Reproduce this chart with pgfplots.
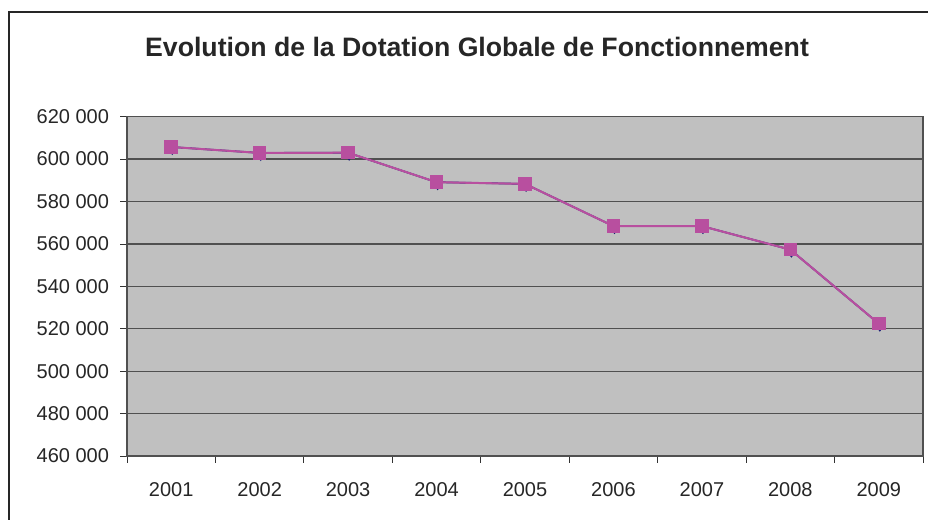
\documentclass[border=0pt]{standalone}
\usepackage{fontspec}
\setmainfont{Liberation Sans}
\usepackage{pgfplots}
\pgfplotsset{compat=1.18}
\definecolor{plotbg}{HTML}{C0C0C0}
\definecolor{gridc}{HTML}{505050}
\definecolor{navyd}{HTML}{1F1F78}
\definecolor{mauve}{HTML}{B84F9F}

\begin{document}
\begin{tikzpicture}
% page = 928 x 520 px at 0.75pt/px
\path[use as bounding box] (0pt,0pt) rectangle (696pt,390pt);
\draw[line width=1.1pt,black!85] (6.75pt,-2pt) -- (6.75pt,381pt) -- (700pt,381pt);
\node[font=\fontsize{20}{24}\selectfont\bfseries,text=black!85] at (357.75pt,354.5pt)
  {Evolution de la Dotation Globale de Fonctionnement};
\begin{axis}[
  at={(95.25pt,48pt)},anchor=south west,
  scale only axis,width=597pt,height=254.5pt,
  xmin=0.5,xmax=9.5,ymin=460000,ymax=620000,
  axis background/.style={fill=plotbg},
  axis line style={gridc,line width=0.9pt},
  xtick={1,...,9},
  xticklabels={2001,2002,2003,2004,2005,2006,2007,2008,2009},
  major x tick style={draw=none},
  minor xtick={0.5,1.5,...,9.5},
  minor x tick style={black!80,line width=0.6pt},
  ytick={460000,480000,...,620000},
  ymajorgrids,grid style={gridc,line width=0.9pt},
  tick align=outside,major tick length=5pt,minor tick length=5pt,
  y tick style={black!80,line width=0.6pt},
  xtick pos=bottom,ytick pos=left,
  tick label style={font=\fontsize{15}{18}\selectfont,text=black!85},
  xticklabel style={yshift=-11pt},
  yticklabel style={xshift=-5pt},
  scaled y ticks=false,
  yticklabel={\pgfmathprintnumber[fixed,precision=0,1000 sep={\ }]{\tick}},
  /pgf/number format/assume math mode=true,
  clip=false,
]
\addplot[navyd,line width=1.3pt,mark=diamond*,mark size=4.2pt,
  mark options={xshift=0.8pt,yshift=-0.8pt}] coordinates {
  (1,605700) (2,602900) (3,603000) (4,589100) (5,588300)
  (6,568400) (7,568400) (8,557300) (9,522400)};
\addplot[mauve,line width=1.5pt,mark=square*,mark size=4.3pt] coordinates {
  (1,605700) (2,602900) (3,603000) (4,589100) (5,588300)
  (6,568400) (7,568400) (8,557300) (9,522400)};
\end{axis}
\end{tikzpicture}
\end{document}
